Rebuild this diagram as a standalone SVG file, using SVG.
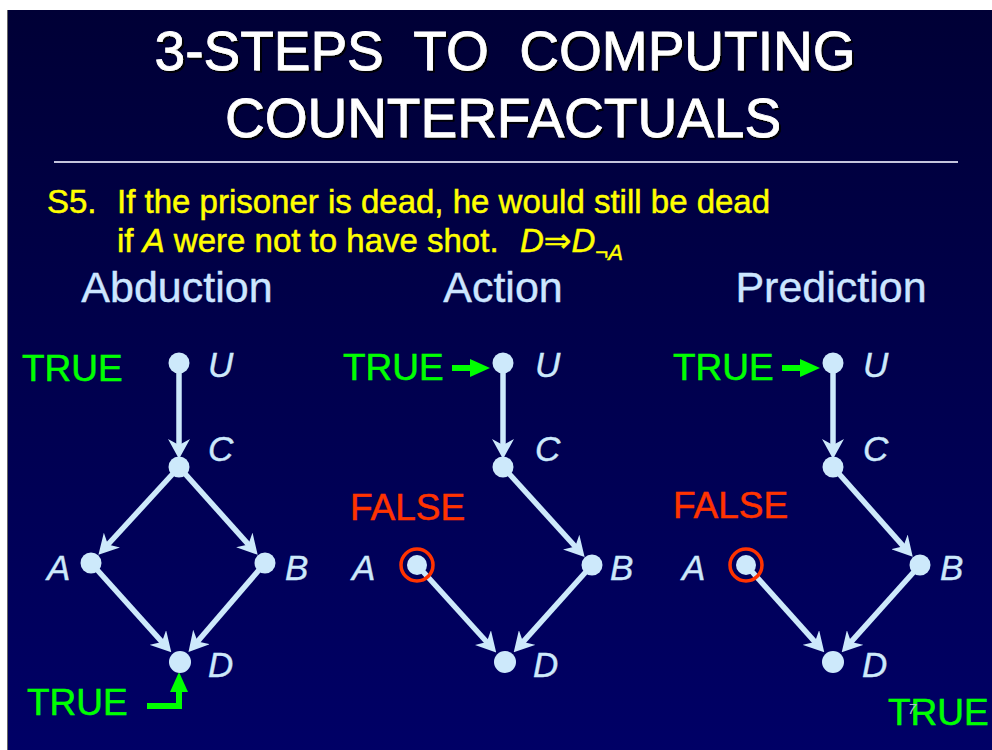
<svg xmlns="http://www.w3.org/2000/svg" width="992" height="750" viewBox="0 0 992 750">
<defs>
<linearGradient id="bg" x1="0" y1="0" x2="0" y2="1">
<stop offset="0" stop-color="#000036"/>
<stop offset="1" stop-color="#000066"/>
</linearGradient>
<filter id="sh" x="-5%" y="-20%" width="110%" height="140%">
<feDropShadow dx="2" dy="2" stdDeviation="0.6" flood-color="#000000" flood-opacity="0.9"/>
</filter>
<marker id="ah" markerUnits="userSpaceOnUse" markerWidth="20" markerHeight="22" viewBox="0 0 20 22" refX="10" refY="11" orient="auto">
<path d="M0,0 L20,11 L0,22 L6,11 Z" fill="#cde9fb"/>
</marker>
<marker id="gh" markerUnits="userSpaceOnUse" markerWidth="20" markerHeight="20" viewBox="0 0 20 20" refX="2" refY="10" orient="auto">
<path d="M0,1 L20,10 L0,19 Z" fill="#00ff00"/>
</marker>
</defs>
<style>
.title{font-family:"Liberation Sans",Arial,sans-serif;font-size:55px;fill:#ffffff;stroke:#ffffff;stroke-width:0.8;text-anchor:middle}
.yel{font-family:"Liberation Sans",Arial,"DejaVu Sans",sans-serif;font-size:33px;fill:#ffff00;stroke:#ffff00;stroke-width:0.5}
.head{font-family:"Liberation Sans",Arial,sans-serif;font-size:43px;fill:#cde6ff;stroke:#cde6ff;stroke-width:0.4;text-anchor:middle}
.lbl{font-family:"Liberation Sans",Arial,sans-serif;font-size:35px;font-style:italic;fill:#cde9fb;stroke:#cde9fb;stroke-width:0.4}
.tr{font-family:"Liberation Sans",Arial,sans-serif;font-size:37px;fill:#00ff00;stroke:#00ff00;stroke-width:0.5}
.fa{font-family:"Liberation Sans",Arial,sans-serif;font-size:37px;fill:#ff3300;stroke:#ff3300;stroke-width:0.5}
.dot{fill:#cde9fb}
.edge{stroke:#cde9fb;stroke-width:5.5;fill:none;marker-end:url(#ah)}
.gedge{stroke:#00ff00;stroke-width:6;fill:none;marker-end:url(#gh);stroke-linejoin:miter}
.ring{fill:none;stroke:#ff3300;stroke-width:3.5}
</style>
<rect x="0" y="0" width="992" height="750" fill="#ffffff"/>
<rect x="8" y="10" width="984" height="740" fill="url(#bg)"/>
<line x1="7.5" y1="10" x2="7.5" y2="750" stroke="#666666" stroke-width="1"/>

<g id="title" filter="url(#sh)">
<text class="title" x="505" y="70" xml:space="preserve">3-STEPS  TO  COMPUTING</text>
<text class="title" x="503" y="137">COUNTERFACTUALS</text>
</g>
<line x1="54" y1="162" x2="958" y2="162" stroke="#c4c4dc" stroke-width="2"/>

<g id="statement">
<text class="yel" x="47" y="213">S5.</text>
<text class="yel" x="117" y="213">If the prisoner is dead, he would still be dead</text>
<text class="yel" x="117" y="252">if <tspan font-style="italic">A</tspan> were not to have shot.</text>
<text class="yel" x="520" y="252" font-style="italic">D<tspan font-style="normal">⇒</tspan>D<tspan font-size="22" dy="8">¬A</tspan></text>
</g>

<g id="headings">
<text class="head" x="177" y="302">Abduction</text>
<text class="head" x="503" y="302">Action</text>
<text class="head" x="831" y="302">Prediction</text>
</g>

<g id="connectors">
<line class="edge" x1="179" y1="363" x2="179" y2="449"/>
<line class="edge" x1="179" y1="467" x2="105.2" y2="547.5"/>
<line class="edge" x1="179" y1="467" x2="251" y2="547.4"/>
<line class="edge" x1="91" y1="563" x2="164.6" y2="644.9"/>
<line class="edge" x1="265" y1="563" x2="195" y2="644.5"/>
<path class="gedge" d="M147,706 H179 V690"/>
<line class="gedge" x1="452" y1="368" x2="472" y2="368"/>
<line class="edge" x1="503" y1="363" x2="503" y2="449"/>
<line class="edge" x1="503" y1="467" x2="577.9" y2="549.5"/>
<line class="edge" x1="417" y1="565" x2="489.5" y2="645"/>
<line class="edge" x1="592" y1="565" x2="520.4" y2="644.9"/>
<line class="gedge" x1="782" y1="368" x2="802" y2="368"/>
<line class="edge" x1="833" y1="363" x2="833" y2="449"/>
<line class="edge" x1="833" y1="467" x2="906.1" y2="549.3"/>
<line class="edge" x1="746" y1="565" x2="817.6" y2="644.9"/>
<line class="edge" x1="920" y1="565" x2="848.4" y2="644.9"/>
</g>

<g id="abd-U"><circle class="dot" cx="179" cy="363" r="10.5"/><text class="lbl" x="208" y="377">U</text></g>
<g id="abd-C"><circle class="dot" cx="179" cy="467" r="10.5"/><text class="lbl" x="208" y="461">C</text></g>
<g id="abd-A"><circle class="dot" cx="91" cy="563" r="10.5"/><text class="lbl" x="47" y="580">A</text></g>
<g id="abd-B"><circle class="dot" cx="265" cy="563" r="10.5"/><text class="lbl" x="285" y="580">B</text></g>
<g id="abd-D"><circle class="dot" cx="180" cy="662" r="11"/><text class="lbl" x="208" y="677">D</text></g>
<g id="abd-trueU"><text class="tr" x="22" y="381">TRUE</text></g>
<g id="abd-trueD"><text class="tr" x="27" y="715">TRUE</text></g>

<g id="act-U"><circle class="dot" cx="503" cy="363" r="10.5"/><text class="lbl" x="535" y="377">U</text></g>
<g id="act-C"><circle class="dot" cx="503" cy="467" r="10.5"/><text class="lbl" x="535" y="461">C</text></g>
<g id="act-A"><circle class="dot" cx="417" cy="565" r="10"/><circle class="ring" cx="417" cy="565" r="16"/><text class="lbl" x="352" y="580">A</text></g>
<g id="act-B"><circle class="dot" cx="592" cy="565" r="10.5"/><text class="lbl" x="610" y="580">B</text></g>
<g id="act-D"><circle class="dot" cx="505" cy="662" r="11"/><text class="lbl" x="533" y="677">D</text></g>
<g id="act-trueU"><text class="tr" x="343" y="380">TRUE</text></g>
<g id="act-false"><text class="fa" x="350" y="520">FALSE</text></g>

<g id="pred-U"><circle class="dot" cx="833" cy="363" r="10.5"/><text class="lbl" x="863" y="377">U</text></g>
<g id="pred-C"><circle class="dot" cx="833" cy="467" r="10.5"/><text class="lbl" x="863" y="461">C</text></g>
<g id="pred-A"><circle class="dot" cx="746" cy="565" r="10"/><circle class="ring" cx="746" cy="565" r="16"/><text class="lbl" x="682" y="580">A</text></g>
<g id="pred-B"><circle class="dot" cx="920" cy="565" r="10.5"/><text class="lbl" x="940" y="580">B</text></g>
<g id="pred-D"><circle class="dot" cx="833" cy="662" r="11"/><text class="lbl" x="862" y="677">D</text></g>
<g id="pred-trueU"><text class="tr" x="673" y="380">TRUE</text></g>
<g id="pred-false"><text class="fa" x="673" y="518">FALSE</text></g>
<g id="pred-trueD"><text class="tr" x="888" y="725">TRUE</text></g>

<text x="908" y="714" font-family="Liberation Sans,Arial,sans-serif" font-size="15" font-style="italic" fill="#aab6d6">7</text>
</svg>
